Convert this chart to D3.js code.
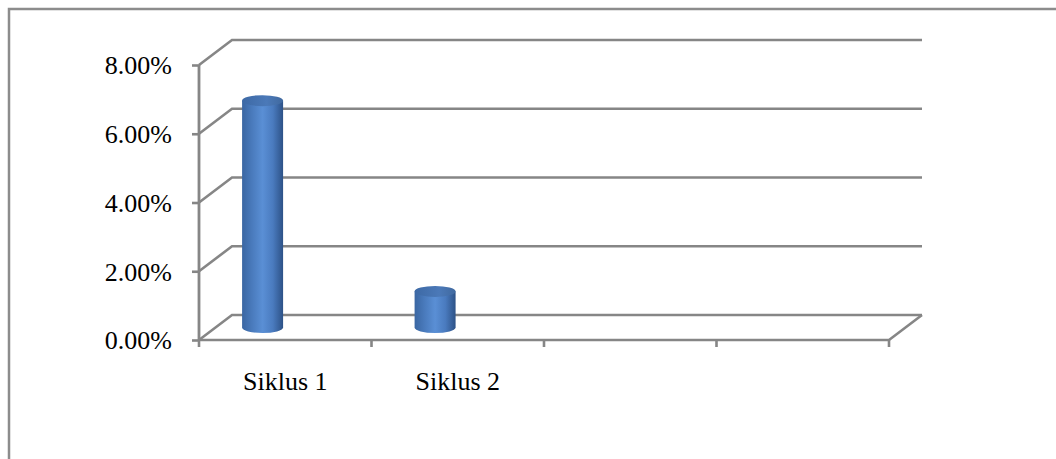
<!DOCTYPE html>
<html>
<head>
<meta charset="utf-8">
<script src="https://cdn.jsdelivr.net/npm/d3@7"></script>
<style>
  body { margin: 0; background: #fff; }
  svg { display: block; }
</style>
</head>
<body>
<div id="chart"></div>
<script>
// Chart data
var categories = ["Siklus 1", "Siklus 2", "", ""];
var values = [0.066, 0.0105, null, null];
var yTicks = [0, 0.02, 0.04, 0.06, 0.08];

var svgWidth = 1056;
var svgHeight = 459;

// front plane of the 3D box and depth offset
var plot = { left: 199, right: 889, top: 65, bottom: 340 };
var depth = { dx: 33, dy: -25 };

var gridColor = "#868686";

var svg = d3.select("#chart")
  .append("svg")
  .attr("width", svgWidth)
  .attr("height", svgHeight);

// outer frame (only left and top edges visible)
svg.append("path")
  .attr("d", "M9,459 L9,9 L1056,9")
  .attr("fill", "none")
  .attr("stroke", "#8c8c8c")
  .attr("stroke-width", 2.5);

// scales
var yScale = d3.scaleLinear()
  .domain([0, 0.08])
  .range([plot.bottom, plot.top]);

var xScale = d3.scaleBand()
  .domain(d3.range(categories.length))
  .range([plot.left, plot.right])
  .padding(0);

// back wall gridlines with side-wall diagonals
var grid = svg.append("g")
  .attr("fill", "none")
  .attr("stroke", gridColor)
  .attr("stroke-width", 2.6);

yTicks.forEach(function(t) {
  var y = yScale(t);
  grid.append("path")
    .attr("d", `M${plot.left},${y} L${plot.left + depth.dx},${y + depth.dy} L${plot.right + depth.dx},${y + depth.dy}`);
});

// floor front edge and right diagonal
grid.append("path")
  .attr("d", `M${plot.left},${plot.bottom} L${plot.right},${plot.bottom} L${plot.right + depth.dx},${plot.bottom + depth.dy}`);

// value axis
var leftAxis = d3.axisLeft(yScale)
  .tickValues(yTicks)
  .tickFormat(d3.format(".2%"))
  .tickSize(7)
  .tickPadding(20);

var yAxisG = svg.append("g")
  .attr("transform", `translate(${plot.left}, 0)`)
  .call(leftAxis);

yAxisG.select(".domain")
  .attr("stroke", gridColor)
  .attr("stroke-width", 2.8)
  .attr("d", `M0,${plot.bottom + 1} L0,${plot.top}`);

yAxisG.selectAll(".tick line")
  .attr("stroke", gridColor)
  .attr("stroke-width", 2.6);

yAxisG.selectAll(".tick text")
  .attr("font-family", "'Liberation Serif', serif")
  .attr("font-size", "26px")
  .attr("fill", "#000")
  .attr("dy", "0.34em");

// category axis
var bottomAxis = d3.axisBottom(xScale)
  .tickFormat(function(i) { return categories[i]; })
  .tickSize(0)
  .tickPadding(32);

var xAxisG = svg.append("g")
  .attr("transform", `translate(0, ${plot.bottom})`)
  .call(bottomAxis);

xAxisG.select(".domain").remove();
xAxisG.selectAll(".tick text")
  .attr("font-family", "'Liberation Serif', serif")
  .attr("font-size", "26px")
  .attr("fill", "#000");

// category boundary tick marks
svg.append("g")
  .selectAll("line")
  .data(d3.range(categories.length + 1))
  .enter()
  .append("line")
  .attr("x1", d => plot.left + d * xScale.bandwidth())
  .attr("x2", d => plot.left + d * xScale.bandwidth())
  .attr("y1", plot.bottom)
  .attr("y2", plot.bottom + 7)
  .attr("stroke", gridColor)
  .attr("stroke-width", 2.6);

// cylinder gradients
var defs = svg.append("defs");
var bodyGrad = defs.append("linearGradient")
  .attr("id", "bodyGrad")
  .attr("x1", "0%").attr("x2", "100%")
  .attr("y1", "0%").attr("y2", "0%");
[["0%", "#3a66a2"], ["25%", "#4a7bbd"], ["50%", "#5a8fd5"], ["75%", "#4a7bbf"], ["100%", "#2d5287"]]
  .forEach(function(s) { bodyGrad.append("stop").attr("offset", s[0]).attr("stop-color", s[1]); });

var topGrad = defs.append("linearGradient")
  .attr("id", "topGrad")
  .attr("x1", "0%").attr("x2", "100%")
  .attr("y1", "0%").attr("y2", "0%");
[["0%", "#3d69a5"], ["60%", "#4b79b8"], ["100%", "#40699f"]]
  .forEach(function(s) { topGrad.append("stop").attr("offset", s[0]).attr("stop-color", s[1]); });

// cylinders drawn at mid depth
var rx = 20.5, ry = 5.5;
var midDx = depth.dx / 2, midDy = depth.dy / 2;
var barData = values
  .map(function(v, i) { return { i: i, v: v }; })
  .filter(function(d) { return d.v != null; });

var bars = svg.append("g").selectAll("g")
  .data(barData)
  .enter()
  .append("g");

function cx(d) { return xScale(d.i) + midDx + xScale.bandwidth() * 0.273; }
function baseY() { return yScale(0) + midDy; }
function topY(d) { return yScale(d.v) + midDy; }

bars.append("path")
  .attr("d", function(d) {
    var l = cx(d) - rx, r = cx(d) + rx;
    return `M${l},${topY(d)} L${l},${baseY()} A${rx},${ry} 0 0 0 ${r},${baseY()} L${r},${topY(d)} Z`;
  })
  .attr("fill", "url(#bodyGrad)");

bars.append("ellipse")
  .attr("cx", cx)
  .attr("cy", topY)
  .attr("rx", rx)
  .attr("ry", ry)
  .attr("fill", "url(#topGrad)");
</script>
</body>
</html>
